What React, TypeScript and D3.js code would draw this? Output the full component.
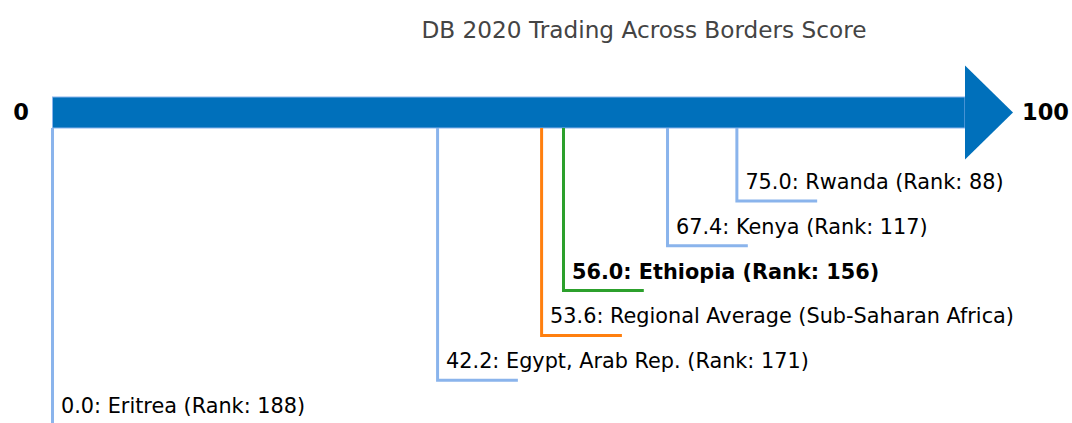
import React from "react";
import * as d3 from "d3";

// DB 2020 Trading Across Borders scores
const names = [
  "Rwanda",
  "Kenya",
  "Ethiopia",
  "Regional Average (Sub-Saharan Africa)",
  "Egypt, Arab Rep.",
  "Eritrea",
];
const scores = [75.0, 67.4, 56.0, 53.6, 42.2, 0.0];
const ranks = [88, 117, 156, null, 171, 188];
const kinds = ["peer", "peer", "focus", "regional", "peer", "peer"];

const W = 1072;
const H = 423;

const App = () => {
  const x = d3.scaleLinear().domain([0, 100]).range([52.5, 965]);
  const level = d3.scaleLinear().domain([0, 5]).range([201, 425]);

  const barTop = 97;
  const barBottom = 128;
  const barMid = (barTop + barBottom) / 2;

  const color = (k) =>
    k === "focus" ? "#2ca02c" : k === "regional" ? "#ff7f0e" : "#8ab4ec";

  const font = "DejaVu Sans, sans-serif";

  return (
    <svg
      width={W}
      height={H}
      style={{ position: "absolute", left: 0, top: 0 }}
      fontFamily={font}
    >
      <rect width={W} height={H} fill="#fff" />
      <text
        x={644}
        y={38}
        textAnchor="middle"
        fontSize={23.2}
        fill="#444"
      >
        DB 2020 Trading Across Borders Score
      </text>

      {/* arrow */}
      <rect
        x={x(0)}
        y={barTop}
        width={x(100) - x(0)}
        height={barBottom - barTop}
        fill="#0070bb"
        stroke="#8ab4ec"
        strokeWidth={1}
      />
      <path
        d={d3.line()([
          [x(100), barMid - 47],
          [x(100) + 48, barMid],
          [x(100), barMid + 47],
        ]) + "Z"}
        fill="#0070bb"
      />
      <text
        x={21}
        y={120}
        textAnchor="middle"
        fontSize={22.5}
        fontWeight="bold"
      >
        0
      </text>
      <text x={1022} y={120} fontSize={22.5} fontWeight="bold">
        100
      </text>

      {names.map((n, i) => {
        const vx = x(scores[i]);
        const ly = level(i);
        const c = color(kinds[i]);
        const label =
          `${scores[i].toFixed(1)}: ${n}` +
          (ranks[i] != null ? ` (Rank: ${ranks[i]})` : "");
        return (
          <g key={n}>
            <path
              d={d3.line()([
                [vx, barBottom],
                [vx, ly],
                [x(scores[i] + 8.8), ly],
              ])}
              fill="none"
              stroke={c}
              strokeWidth={3}
            />
            <text
              x={vx + 8.5}
              y={ly - 12}
              fontSize={20.8}
              fontWeight={kinds[i] === "focus" ? "bold" : "normal"}
              fill="#000"
            >
              {label}
            </text>
          </g>
        );
      })}
    </svg>
  );
};

export default App;
